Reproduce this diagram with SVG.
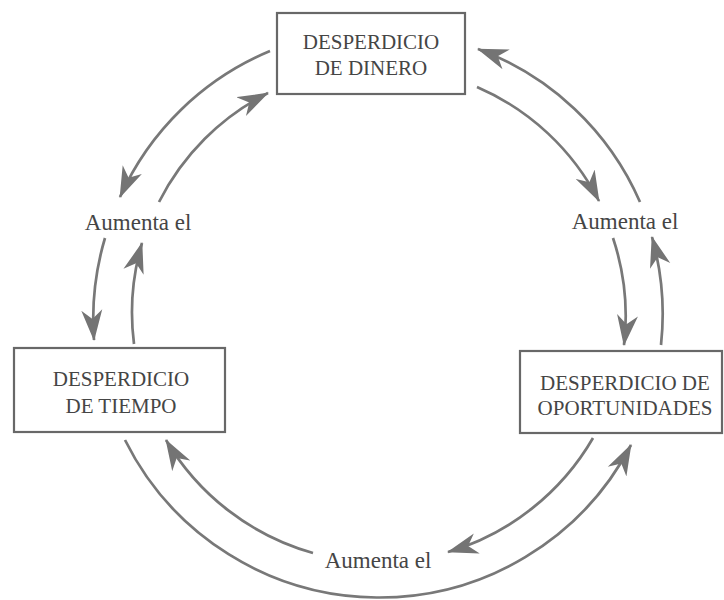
<svg xmlns="http://www.w3.org/2000/svg" width="724" height="600" viewBox="0 0 724 600">
<style>
.box{fill:#fff;stroke:#686868;stroke-width:2.2}
.bt{font-family:"Liberation Serif","Times New Roman",serif;font-size:21px;fill:#454545;text-anchor:middle}
.lb{font-family:"Liberation Serif","Times New Roman",serif;font-size:23px;fill:#454545;text-anchor:middle}
.arc{fill:none;stroke:#787878;stroke-width:2.7;marker-end:url(#ah)}
</style>
<defs>
<marker id="ah" markerUnits="userSpaceOnUse" viewBox="0 0 31 22" refX="30" refY="11" markerWidth="31" markerHeight="22" orient="auto">
<path d="M31,11 L0,0.5 L9,11 L0,21.5 Z" fill="#747474"/>
</marker>
</defs>
<rect width="724" height="600" fill="#fff"/>
<g id="connectors">
<path class="arc" d="M270,51 A284,284 0 0 0 120,197"/>
<path class="arc" d="M105,238 A284,284 0 0 0 94,340"/>
<path class="arc" d="M125,440 A284,284 0 0 0 631,445"/>
<path class="arc" d="M661,345 A284,284 0 0 0 652,237"/>
<path class="arc" d="M640,202 A284,284 0 0 0 478,49"/>
<path class="arc" d="M134,344 A247,247 0 0 1 142,243"/>
<path class="arc" d="M159,202 A247,247 0 0 1 268,93"/>
<path class="arc" d="M477,87 A247,247 0 0 1 599,201"/>
<path class="arc" d="M613,238 A247,247 0 0 1 624,345"/>
<path class="arc" d="M593,438 A249,249 0 0 1 448,552"/>
<path class="arc" d="M313,553 A249,249 0 0 1 166,440"/>
</g>
<g id="node-dinero">
<rect class="box" x="277" y="13" width="188" height="81"/>
<text class="bt" x="371" y="49">DESPERDICIO</text>
<text class="bt" x="371" y="75">DE DINERO</text>
</g>
<g id="node-tiempo">
<rect class="box" x="14" y="348" width="211" height="84"/>
<text class="bt" x="121" y="386">DESPERDICIO</text>
<text class="bt" x="121" y="413">DE TIEMPO</text>
</g>
<g id="node-oportunidades">
<rect class="box" x="520" y="351" width="202" height="82"/>
<text class="bt" x="625" y="390">DESPERDICIO DE</text>
<text class="bt" x="625" y="415">OPORTUNIDADES</text>
</g>
<g id="label-left"><text class="lb" x="138" y="230">Aumenta el</text></g>
<g id="label-right"><text class="lb" x="625" y="229">Aumenta el</text></g>
<g id="label-bottom"><text class="lb" x="378" y="568">Aumenta el</text></g>
</svg>
